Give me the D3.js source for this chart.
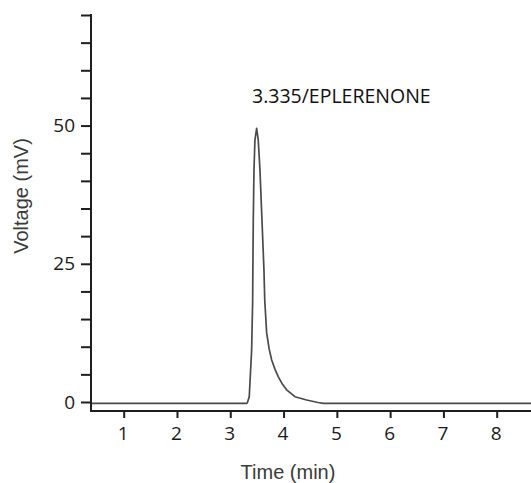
<!DOCTYPE html>
<html>
<head>
<meta charset="utf-8">
<script src="https://cdn.jsdelivr.net/npm/d3@7"></script>
<style>
  html, body { margin: 0; padding: 0; background: #fff; }
  svg { display: block; }
</style>
</head>
<body>
<svg id="chart" width="531" height="483"></svg>
<script>
// ---- data ----
const timeMin = [0.39, 3.30, 3.319, 3.356, 3.401, 3.420, 3.424, 3.432, 3.445, 3.463, 3.495,
                 3.525, 3.557, 3.595, 3.632, 3.647, 3.683, 3.73, 3.777, 3.84, 3.900, 3.98, 4.058, 4.214, 4.433, 4.645, 4.75, 8.65];
const voltage = [-0.24, -0.24, -0.18, 0.96, 9.4, 18.4, 23.9, 32.9, 42.0, 47.4, 49.5,
                 47.4, 42.0, 32.9, 23.9, 18.4, 12.5, 9.6, 7.6, 5.9, 4.6, 3.2, 2.2, 0.96, 0.36, -0.09, -0.24, -0.24];
const xTicks = [1, 2, 3, 4, 5, 6, 7, 8];
const yTicks = [0, 5, 10, 15, 20, 25, 30, 35, 40, 45, 50, 55, 60, 65, 70];
const yTickLabels = [0, 25, 50];
const peakLabel = "3.335/EPLERENONE";
const xTitle = "Time (min)";
const yTitle = "Voltage (mV)";

const svg = d3.select("#chart");
const axisX0 = 91, axisY0 = 411;

const x = d3.scaleLinear().domain([1, 8]).range([123.7, 496.7]);
const y = d3.scaleLinear().domain([0, 70]).range([402, 15]);

// signal
const pts = timeMin.map((t, i) => [t, voltage[i]]);
svg.append("path")
  .datum(pts)
  .attr("fill", "none")
  .attr("stroke", "#4a4a4a")
  .attr("stroke-width", 1.7)
  .attr("stroke-linejoin", "round")
  .attr("d", d3.line().x(d => x(d[0])).y(d => y(d[1])).curve(d3.curveLinear));

// x axis
const gx = svg.append("g").attr("transform", `translate(0,${axisY0})`);
gx.append("line").attr("x1", axisX0 - 1).attr("x2", 531).attr("y1", 0).attr("y2", 0)
  .attr("stroke", "#1e1e1e").attr("stroke-width", 2);
gx.call(d3.axisBottom(x).tickValues(xTicks).tickSize(7).tickSizeOuter(0).tickFormat(d3.format("d")))
  .call(g => g.select(".domain").remove())
  .call(g => g.selectAll(".tick line").attr("stroke", "#1e1e1e").attr("stroke-width", 2))
  .call(g => g.selectAll(".tick text")
      .attr("y", 28.5).attr("dy", 0).attr("x", -1)
      .attr("font-family", "'Open Sans', sans-serif").attr("font-size", 19).attr("fill", "#1a1a1a"));

// y axis
const gy = svg.append("g").attr("transform", `translate(${axisX0},0)`);
gy.append("line").attr("x1", 0).attr("x2", 0).attr("y1", y(70) - 1).attr("y2", axisY0 + 1)
  .attr("stroke", "#1e1e1e").attr("stroke-width", 2);
gy.call(d3.axisLeft(y).tickValues(yTicks).tickSize(10).tickSizeOuter(0)
      .tickFormat(d => yTickLabels.includes(d) ? d : ""))
  .call(g => g.select(".domain").remove())
  .call(g => g.selectAll(".tick line").attr("stroke", "#1e1e1e").attr("stroke-width", 2))
  .call(g => g.selectAll(".tick text")
      .attr("x", -16).attr("dy", 6)
      .attr("font-family", "'Open Sans', sans-serif").attr("font-size", 19).attr("fill", "#1a1a1a"));

// titles
svg.append("text")
  .attr("x", 288).attr("y", 479)
  .attr("text-anchor", "middle")
  .attr("font-family", "'Liberation Sans', Arial, sans-serif").attr("font-size", 20)
  .attr("fill", "#3a3a3a")
  .text(xTitle);

svg.append("text")
  .attr("transform", "translate(28,196) rotate(-90)")
  .attr("text-anchor", "middle")
  .attr("font-family", "'Liberation Sans', Arial, sans-serif").attr("font-size", 20)
  .attr("fill", "#3a3a3a")
  .text(yTitle);

// peak annotation
svg.append("text")
  .attr("x", 252).attr("y", 103)
  .attr("font-family", "'Open Sans', sans-serif").attr("font-size", 19.5)
  .attr("fill", "#111")
  .text(peakLabel);
</script>
</body>
</html>
